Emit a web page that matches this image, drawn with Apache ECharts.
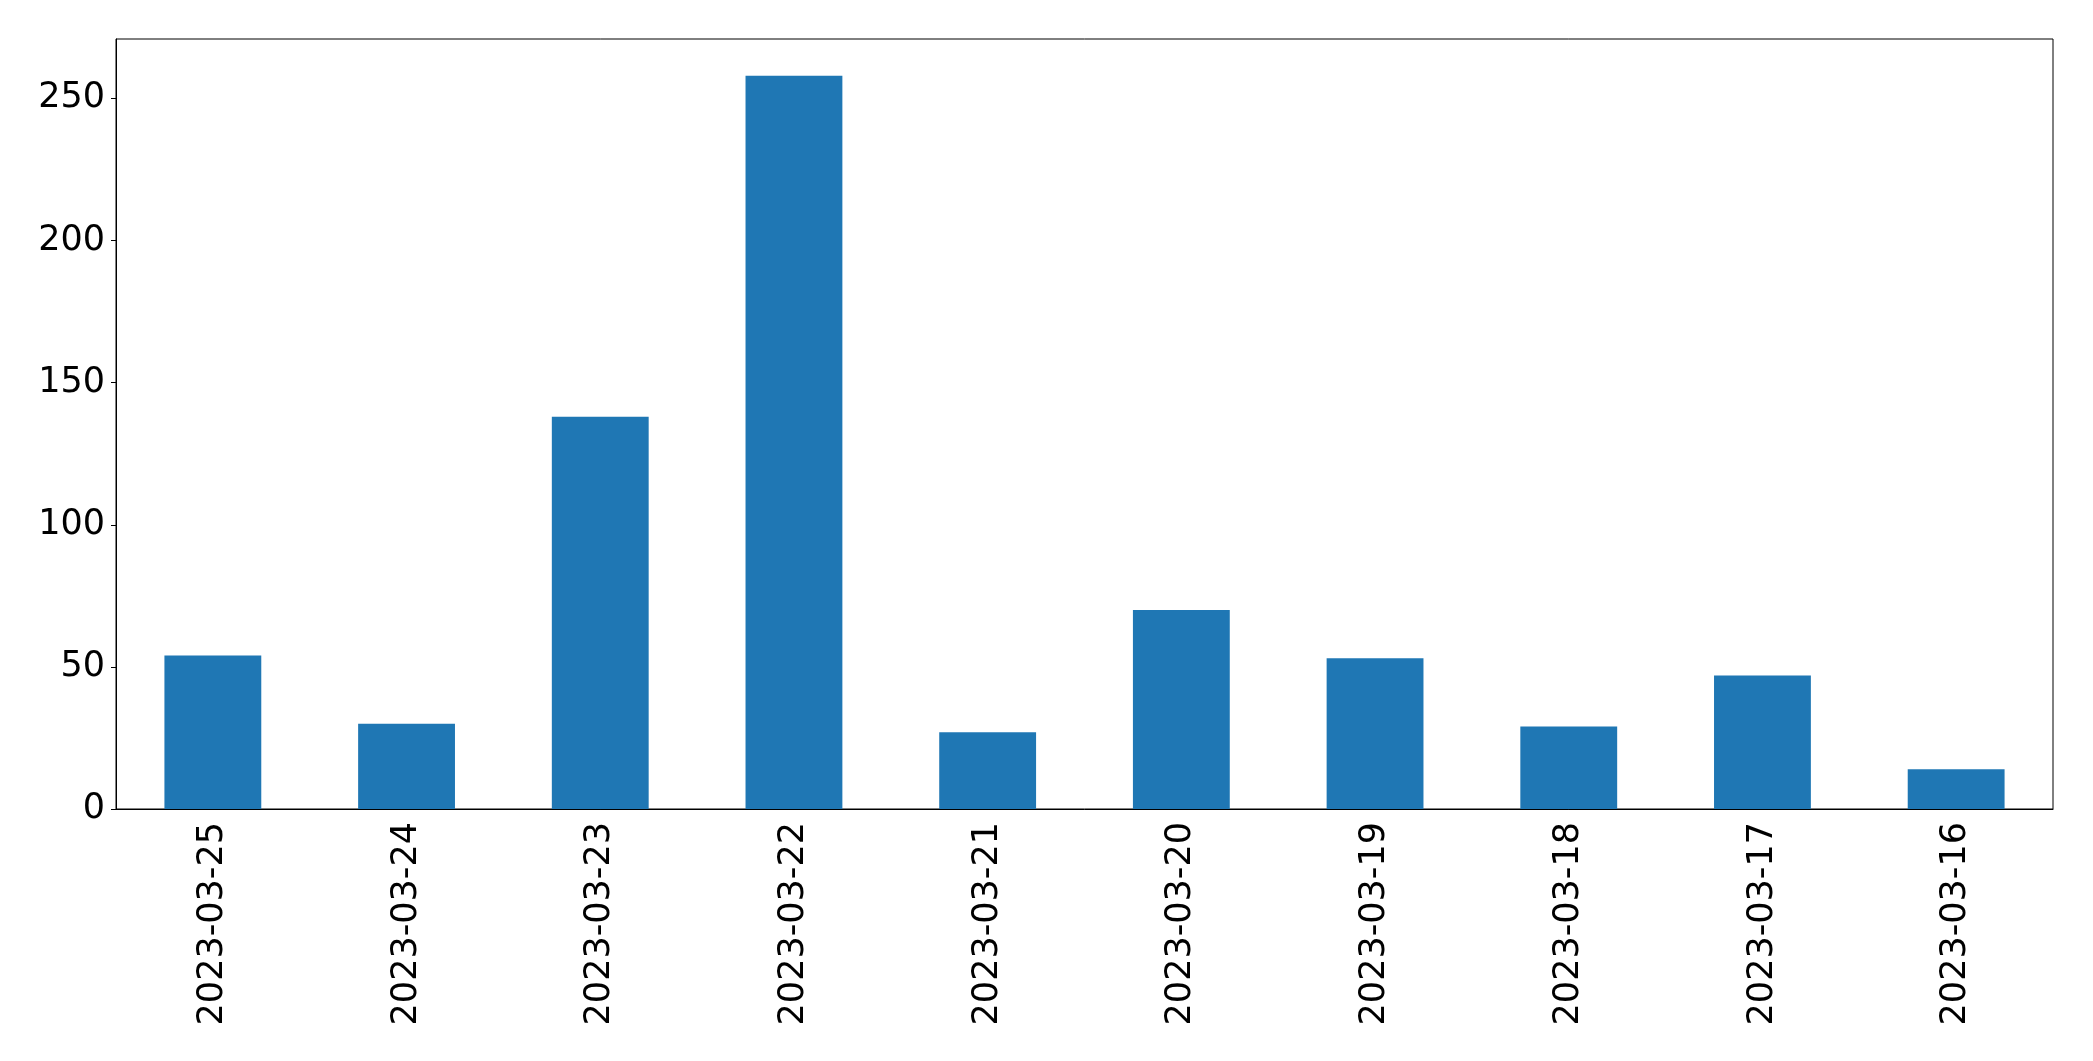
<!DOCTYPE html>
<html>
<head>
<meta charset="utf-8">
<script src="https://cdn.jsdelivr.net/npm/echarts@6/dist/echarts.min.js"></script>
<style>
  html, body { margin: 0; padding: 0; background: #fff; }
  #chart { width: 2093px; height: 1061px; }
</style>
</head>
<body>
<div id="chart"></div>
<script>
// dates shown on the x axis
const dates = [
  '2023-03-25', '2023-03-24', '2023-03-23', '2023-03-22', '2023-03-21',
  '2023-03-20', '2023-03-19', '2023-03-18', '2023-03-17', '2023-03-16'
];
// bar heights
const counts = [54, 30, 138, 258, 27, 70, 53, 29, 47, 14];
// y tick labels
const yTicks = [0, 50, 100, 150, 200, 250];

const chart = echarts.init(document.getElementById('chart'));

const font = 'DejaVu Sans';

const option = {
  animation: false,
  grid: {
    left: 116,
    right: 40,
    top: 39,
    bottom: 252,
    show: true,
    borderColor: '#000',
    borderWidth: 1
  },
  xAxis: {
    type: 'category',
    data: dates,
    axisLine: { lineStyle: { color: '#000', width: 1 } },
    axisTick: { alignWithLabel: true, length: 5, lineStyle: { color: '#000' } },
    axisLabel: {
      rotate: 90,
      margin: 13,
      color: '#000',
      fontFamily: font,
      fontSize: 35,
      interval: 0
    }
  },
  yAxis: {
    type: 'value',
    min: 0,
    max: 270.9,
    interval: 50,
    splitLine: { show: false },
    axisLine: { show: true, lineStyle: { color: '#000', width: 1 } },
    axisTick: { show: true, length: 5, lineStyle: { color: '#000' }, customValues: yTicks },
    axisLabel: {
      margin: 11,
      color: '#000',
      fontFamily: font,
      fontSize: 35,
      customValues: yTicks
    }
  },
  series: [
    {
      type: 'bar',
      data: counts,
      barWidth: '50%',
      itemStyle: { color: '#1f77b4' }
    }
  ]
};

chart.setOption(option);
</script>
</body>
</html>
